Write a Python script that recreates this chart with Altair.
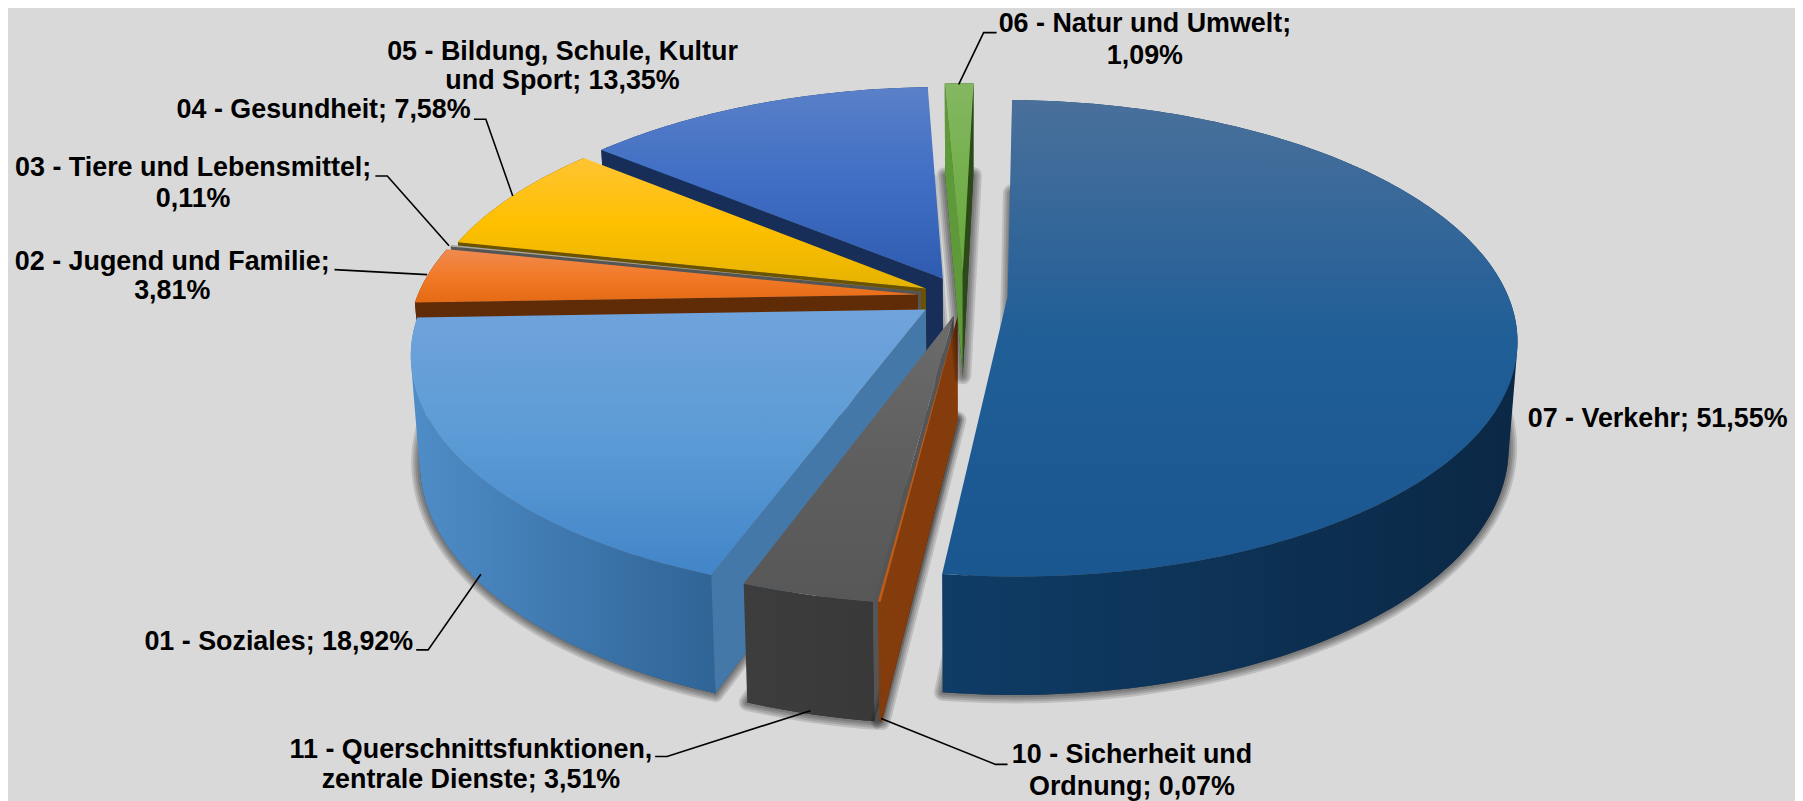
import math
import altair as alt

# ---- values, clockwise from the top of the pie ----
codes = ["07", "10", "11", "01", "02", "03", "04", "05", "06"]
shares = [51.55, 0.07, 3.51, 18.92, 3.81, 0.11, 7.58, 13.35, 1.09]

label_lines = [
    ["07 - Verkehr; 51,55%"],
    ["10 - Sicherheit und", "Ordnung; 0,07%"],
    ["11 - Querschnittsfunktionen,", "zentrale Dienste; 3,51%"],
    ["01 - Soziales; 18,92%"],
    ["02 - Jugend und Familie;", "3,81%"],
    ["03 - Tiere und Lebensmittel;", "0,11%"],
    ["04 - Gesundheit; 7,58%"],
    ["05 - Bildung, Schule, Kultur", "und Sport; 13,35%"],
    ["06 - Natur und Umwelt;", "1,09%"],
]

# ---- layout (page pixels) ----
OFF = 8
CX, CY, A, B, K, H, SX, SY = 970, 294, 503, 232, 0.175, 104, 0.984, 0.975
START = 1.45
apex = {"07": (1012, 294), "10": (962, 313), "11": (958, 313), "01": (930, 307), "02": (922, 292),
        "03": (925, 289), "04": (930, 286), "05": (947, 276), "06": (967, 271)}
label_pos = {"07": (1665, [417]), "10": (1137, [755, 787]), "11": (473, [750, 780]), "01": (280, [641]),
             "02": (173, [259, 289]), "03": (194, [165, 196]), "04": (325, [107]), "05": (565, [48, 78]),
             "06": (1150, [20, 52])}
leaders = [
    [(1001, 29), (988, 29), (963, 81)],
    [(476, 116), (488, 116), (515, 193)],
    [(377, 173), (389, 173), (451, 243)],
    [(336, 267), (429, 272)],
    [(418, 649), (430, 649), (483, 573)],
    [(658, 756), (670, 756), (814, 710)],
    [(1012, 764), (1000, 764), (885, 718)],
]
# top-face gradient stops, outer wall (left,right), cut wall
style = {
    "07": (["#4a709b", "#205e97", "#1a5690"], ("#0f3c66", "#0b2845"), None),
    "10": (["#c55a11", "#c55a11", "#c55a11"], ("#843c0c", "#843c0c"), "#843c0c"),
    "11": (["#6c6c6c", "#5f5f5f", "#575757"], ("#3d3d3d", "#393939"), "#555555"),
    "01": (["#70a3dc", "#5b9bd5", "#4285c8"], ("#4f8dc8", "#2f6496"), "#4478a8"),
    "02": (["#f08a50", "#f27a28", "#e56a15"], ("#5f2c07", "#5f2c07"), "#5f2c07"),
    "03": (["#a5a5a5", "#a5a5a5", "#a5a5a5"], ("#555555", "#555555"), "#555555"),
    "04": (["#ffc433", "#ffc000", "#e5b300"], ("#6b5200", "#6b5200"), "#6b5200"),
    "05": (["#5a80c8", "#3f6ec4", "#2f5cb0"], ("#1b355f", "#1b355f"), "#162e58"),
    "06": (["#84b762", "#74b04c", "#65a83c"], ("#2f4f1a", "#2f4f1a"), "#2b4a18"),
}
paint_order = ["05", "04", "03", "02", "01", "11", "10", "06", "07"]


def project(X, Y):
    s = 1 / (1 + K * Y)
    return CX + A * X * s, CY - B * Y * s, s


def world_apex(code):
    ax, ay = apex[code]
    t = (CY - ay) / B
    Y = t / (1 - K * t)
    s = 1 / (1 + K * Y)
    return (ax - CX) / (A * s), Y


def top(X, Y):
    x, y, _ = project(X, Y)
    return (x, y)


def bottom(X, Y):
    x, y, s = project(X, Y)
    return (CX + (x - CX) * SX, CY + (y - CY) * SY + H * s)


def ring(points):
    pts = [[p[0] - OFF, p[1] - OFF] for p in points]
    pts.append(pts[0])
    return pts


def feature(points):
    return {"type": "Feature", "properties": {}, "geometry": {"type": "Polygon", "coordinates": [ring(points)]}}


def signed_area(points):
    return sum(points[i][0] * points[(i + 1) % len(points)][1] - points[(i + 1) % len(points)][0] * points[i][1]
               for i in range(len(points)))


def wall_feature(upper, lower):
    """The curved outer wall as a strip of same-wound quads, so its folded ends still fill."""
    polys = []
    for i in range(len(upper) - 1):
        quad = [upper[i], upper[i + 1], lower[i + 1], lower[i]]
        if signed_area(quad) < 0:
            quad = quad[::-1]
        polys.append([ring(quad)])
    return {"type": "Feature", "properties": {}, "geometry": {"type": "MultiPolygon", "coordinates": polys}}


def gradient(colors, vertical=True):
    n = len(colors) - 1
    stops = [{"offset": i / n, "color": c} for i, c in enumerate(colors)]
    return {"gradient": "linear", "x1": 0, "y1": 0, "x2": 0 if vertical else 1, "y2": 1 if vertical else 0,
            "stops": stops}


PROJ = dict(type="identity", scale=1, translate=[0, 0])


def shape(points, **mark):
    return alt.Chart(alt.Data(values=[feature(points)])).mark_geoshape(**mark).project(**PROJ)


def wall_shape(upper, lower, **mark):
    return alt.Chart(alt.Data(values=[wall_feature(upper, lower)])).mark_geoshape(**mark).project(**PROJ)


layers = []
spans = {}
angle = START
for code, share in zip(codes, shares):
    spans[code] = (angle, angle + share * 3.6)
    angle += share * 3.6

for code in paint_order:
    t0, t1 = spans[code]
    X0, Y0 = world_apex(code)
    n = max(2, int(t1 - t0) + 1)
    ts = [math.radians(t0 + (t1 - t0) * i / n) for i in range(n + 1)]
    world = [(X0 + math.sin(t), Y0 + math.cos(t)) for t in ts]
    top_arc = [top(*w) for w in world]
    bot_arc = [bottom(*w) for w in world]
    a_top, a_bot = top(X0, Y0), bottom(X0, Y0)
    face_cols, wall_cols, cut_col = style[code]

    # soft shadow: stacked translucent outlines of the slice's floor
    floor = bot_arc + [a_bot]
    for w in (17, 13, 9, 5):
        layers.append(shape(floor, filled=False, stroke="#000000", strokeWidth=w, strokeOpacity=0.13,
                            strokeJoin="round"))
    layers.append(shape(floor, fill="#000000", fillOpacity=0.55))

    # outer wall
    layers.append(wall_shape(top_arc, bot_arc, fill=gradient(wall_cols, vertical=False)))
    # cut walls
    if code == "06":
        layers.append(shape([top_arc[0], a_top, a_bot, bot_arc[0]], fill="#5f9a3a"))
        layers.append(shape([top_arc[-1], a_top, a_bot, bot_arc[-1]], fill=cut_col))
    elif cut_col:
        layers.append(shape([top_arc[0], a_top, a_bot, bot_arc[0]], fill=cut_col))
    # top face
    layers.append(shape(top_arc + [a_top], fill=gradient(face_cols)))

# leader lines
leader_rows = [{"id": i, "o": j, "x": p[0] - OFF, "y": p[1] - OFF}
               for i, line in enumerate(leaders) for j, p in enumerate(line)]
layers.append(
    alt.Chart(alt.Data(values=leader_rows)).mark_line(color="#000000", strokeWidth=1.6).encode(
        x=alt.X("x:Q", scale=None, axis=None),
        y=alt.Y("y:Q", scale=None, axis=None),
        detail="id:N",
        order="o:Q",
    )
)

# labels
text_rows = []
for code, lines in zip(codes, label_lines):
    lx, lys = label_pos[code]
    for line, ly in zip(lines, lys):
        text_rows.append({"t": line, "x": lx - OFF, "y": ly - OFF})
layers.append(
    alt.Chart(alt.Data(values=text_rows)).mark_text(
        font="Liberation Sans", fontWeight="bold", fontSize=27, color="#000000", align="center", baseline="middle"
    ).encode(
        x=alt.X("x:Q", scale=None, axis=None),
        y=alt.Y("y:Q", scale=None, axis=None),
        text="t:N",
    )
)

chart = alt.layer(*layers).properties(width=1795, height=793, padding=0, background="#d9d9d9").configure_view(
    stroke=None
)
chart.save("out.html", embed_options={"renderer": "svg", "actions": False})
